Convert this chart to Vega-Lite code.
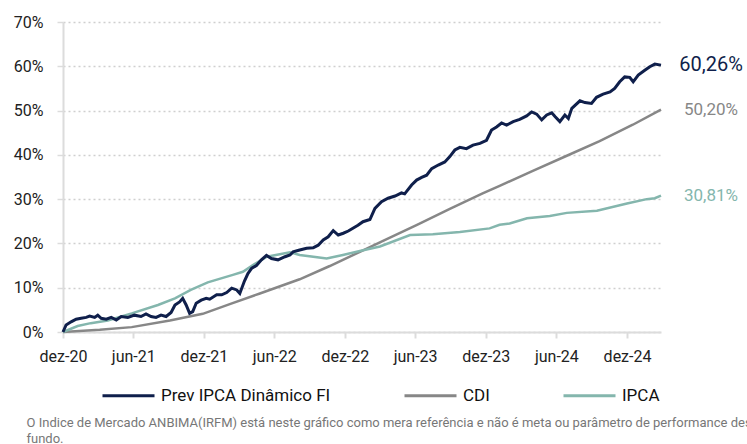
{
  "$schema": "https://vega.github.io/schema/vega-lite/v6.json",
  "width": 598,
  "height": 310,
  "autosize": {"type": "none"},
  "padding": {"left": 63, "top": 22, "right": 86, "bottom": 112},
  "title": {"text": "Rentabilidade acumulada desde o começo", "fontSize": 18, "fontWeight": "bold", "color": "#1b2559", "anchor": "middle", "frame": "group", "baseline": "alphabetic", "offset": 20, "dx": 42, "font": "Roboto"},
  "config": {"view": {"stroke": null}, "font": "Roboto"},
  "datasets": {
    "series": [
      {"serie": "CDI", "date": "2020-12-01", "value": 0},
      {"serie": "CDI", "date": "2021-03-06", "value": 0.5},
      {"serie": "CDI", "date": "2021-05-28", "value": 1.1},
      {"serie": "CDI", "date": "2021-09-04", "value": 2.6},
      {"serie": "CDI", "date": "2021-11-28", "value": 4.1},
      {"serie": "CDI", "date": "2022-02-06", "value": 6.3},
      {"serie": "CDI", "date": "2022-04-25", "value": 8.7},
      {"serie": "CDI", "date": "2022-08-06", "value": 11.9},
      {"serie": "CDI", "date": "2022-10-23", "value": 14.9},
      {"serie": "CDI", "date": "2023-01-09", "value": 18.1},
      {"serie": "CDI", "date": "2023-03-10", "value": 20.6},
      {"serie": "CDI", "date": "2023-06-06", "value": 24.2},
      {"serie": "CDI", "date": "2023-08-30", "value": 27.8},
      {"serie": "CDI", "date": "2023-11-23", "value": 31.3},
      {"serie": "CDI", "date": "2024-01-06", "value": 33.0},
      {"serie": "CDI", "date": "2024-04-01", "value": 36.4},
      {"serie": "CDI", "date": "2024-06-28", "value": 39.8},
      {"serie": "CDI", "date": "2024-09-21", "value": 43.1},
      {"serie": "CDI", "date": "2024-12-16", "value": 46.8},
      {"serie": "CDI", "date": "2025-02-27", "value": 50.2},
      {"serie": "IPCA", "date": "2020-12-01", "value": 0},
      {"serie": "IPCA", "date": "2021-01-08", "value": 1.35},
      {"serie": "IPCA", "date": "2021-02-11", "value": 2.0},
      {"serie": "IPCA", "date": "2021-03-27", "value": 2.6},
      {"serie": "IPCA", "date": "2021-05-28", "value": 4.2},
      {"serie": "IPCA", "date": "2021-08-04", "value": 6.1},
      {"serie": "IPCA", "date": "2021-09-17", "value": 7.6},
      {"serie": "IPCA", "date": "2021-10-28", "value": 9.5},
      {"serie": "IPCA", "date": "2021-12-11", "value": 11.2},
      {"serie": "IPCA", "date": "2022-02-14", "value": 12.9},
      {"serie": "IPCA", "date": "2022-03-12", "value": 13.6},
      {"serie": "IPCA", "date": "2022-04-07", "value": 15.1},
      {"serie": "IPCA", "date": "2022-05-13", "value": 17.0},
      {"serie": "IPCA", "date": "2022-07-12", "value": 18.0},
      {"serie": "IPCA", "date": "2022-08-06", "value": 17.4},
      {"serie": "IPCA", "date": "2022-10-15", "value": 16.6},
      {"serie": "IPCA", "date": "2022-11-26", "value": 17.4},
      {"serie": "IPCA", "date": "2023-01-09", "value": 18.3},
      {"serie": "IPCA", "date": "2023-03-02", "value": 19.3},
      {"serie": "IPCA", "date": "2023-05-19", "value": 21.9},
      {"serie": "IPCA", "date": "2023-07-17", "value": 22.1},
      {"serie": "IPCA", "date": "2023-09-25", "value": 22.6},
      {"serie": "IPCA", "date": "2023-12-11", "value": 23.4},
      {"serie": "IPCA", "date": "2024-01-06", "value": 24.2},
      {"serie": "IPCA", "date": "2024-02-01", "value": 24.5},
      {"serie": "IPCA", "date": "2024-03-17", "value": 25.7},
      {"serie": "IPCA", "date": "2024-05-15", "value": 26.2},
      {"serie": "IPCA", "date": "2024-06-28", "value": 26.9},
      {"serie": "IPCA", "date": "2024-09-14", "value": 27.4},
      {"serie": "IPCA", "date": "2024-12-01", "value": 29.0},
      {"serie": "IPCA", "date": "2025-01-21", "value": 30.0},
      {"serie": "IPCA", "date": "2025-02-11", "value": 30.2},
      {"serie": "IPCA", "date": "2025-02-27", "value": 30.81},
      {"serie": "Prev IPCA Dinâmico FI", "date": "2020-12-01", "value": 0},
      {"serie": "Prev IPCA Dinâmico FI", "date": "2020-12-09", "value": 1.6},
      {"serie": "Prev IPCA Dinâmico FI", "date": "2020-12-22", "value": 2.3},
      {"serie": "Prev IPCA Dinâmico FI", "date": "2021-01-04", "value": 2.9},
      {"serie": "Prev IPCA Dinâmico FI", "date": "2021-01-17", "value": 3.1},
      {"serie": "Prev IPCA Dinâmico FI", "date": "2021-01-30", "value": 3.3},
      {"serie": "Prev IPCA Dinâmico FI", "date": "2021-02-08", "value": 3.6},
      {"serie": "Prev IPCA Dinâmico FI", "date": "2021-02-21", "value": 3.3},
      {"serie": "Prev IPCA Dinâmico FI", "date": "2021-03-01", "value": 3.8},
      {"serie": "Prev IPCA Dinâmico FI", "date": "2021-03-10", "value": 3.1},
      {"serie": "Prev IPCA Dinâmico FI", "date": "2021-03-23", "value": 2.9},
      {"serie": "Prev IPCA Dinâmico FI", "date": "2021-04-05", "value": 3.3},
      {"serie": "Prev IPCA Dinâmico FI", "date": "2021-04-18", "value": 2.7},
      {"serie": "Prev IPCA Dinâmico FI", "date": "2021-05-01", "value": 3.5},
      {"serie": "Prev IPCA Dinâmico FI", "date": "2021-05-18", "value": 3.3},
      {"serie": "Prev IPCA Dinâmico FI", "date": "2021-06-04", "value": 3.8},
      {"serie": "Prev IPCA Dinâmico FI", "date": "2021-06-21", "value": 3.5},
      {"serie": "Prev IPCA Dinâmico FI", "date": "2021-07-04", "value": 4.1},
      {"serie": "Prev IPCA Dinâmico FI", "date": "2021-07-17", "value": 3.5},
      {"serie": "Prev IPCA Dinâmico FI", "date": "2021-07-30", "value": 3.3},
      {"serie": "Prev IPCA Dinâmico FI", "date": "2021-08-12", "value": 3.8},
      {"serie": "Prev IPCA Dinâmico FI", "date": "2021-08-25", "value": 3.5},
      {"serie": "Prev IPCA Dinâmico FI", "date": "2021-09-07", "value": 4.4},
      {"serie": "Prev IPCA Dinâmico FI", "date": "2021-09-17", "value": 6.1},
      {"serie": "Prev IPCA Dinâmico FI", "date": "2021-09-29", "value": 6.8},
      {"serie": "Prev IPCA Dinâmico FI", "date": "2021-10-07", "value": 7.6},
      {"serie": "Prev IPCA Dinâmico FI", "date": "2021-10-16", "value": 6.1},
      {"serie": "Prev IPCA Dinâmico FI", "date": "2021-10-25", "value": 4.2},
      {"serie": "Prev IPCA Dinâmico FI", "date": "2021-11-02", "value": 4.6},
      {"serie": "Prev IPCA Dinâmico FI", "date": "2021-11-11", "value": 6.5},
      {"serie": "Prev IPCA Dinâmico FI", "date": "2021-11-24", "value": 7.2},
      {"serie": "Prev IPCA Dinâmico FI", "date": "2021-12-07", "value": 7.6},
      {"serie": "Prev IPCA Dinâmico FI", "date": "2021-12-16", "value": 7.4},
      {"serie": "Prev IPCA Dinâmico FI", "date": "2022-01-03", "value": 8.4},
      {"serie": "Prev IPCA Dinâmico FI", "date": "2022-01-16", "value": 8.4},
      {"serie": "Prev IPCA Dinâmico FI", "date": "2022-01-29", "value": 8.9},
      {"serie": "Prev IPCA Dinâmico FI", "date": "2022-02-11", "value": 9.9},
      {"serie": "Prev IPCA Dinâmico FI", "date": "2022-02-24", "value": 9.5},
      {"serie": "Prev IPCA Dinâmico FI", "date": "2022-03-04", "value": 8.7},
      {"serie": "Prev IPCA Dinâmico FI", "date": "2022-03-16", "value": 11.5},
      {"serie": "Prev IPCA Dinâmico FI", "date": "2022-03-25", "value": 13.2},
      {"serie": "Prev IPCA Dinâmico FI", "date": "2022-04-04", "value": 14.4},
      {"serie": "Prev IPCA Dinâmico FI", "date": "2022-04-16", "value": 15.0},
      {"serie": "Prev IPCA Dinâmico FI", "date": "2022-04-29", "value": 16.3},
      {"serie": "Prev IPCA Dinâmico FI", "date": "2022-05-12", "value": 17.3},
      {"serie": "Prev IPCA Dinâmico FI", "date": "2022-05-25", "value": 16.6},
      {"serie": "Prev IPCA Dinâmico FI", "date": "2022-06-11", "value": 16.3},
      {"serie": "Prev IPCA Dinâmico FI", "date": "2022-06-29", "value": 17.0},
      {"serie": "Prev IPCA Dinâmico FI", "date": "2022-07-12", "value": 17.4},
      {"serie": "Prev IPCA Dinâmico FI", "date": "2022-07-20", "value": 18.1},
      {"serie": "Prev IPCA Dinâmico FI", "date": "2022-08-06", "value": 18.5},
      {"serie": "Prev IPCA Dinâmico FI", "date": "2022-08-24", "value": 18.9},
      {"serie": "Prev IPCA Dinâmico FI", "date": "2022-09-10", "value": 19.0},
      {"serie": "Prev IPCA Dinâmico FI", "date": "2022-09-23", "value": 19.6},
      {"serie": "Prev IPCA Dinâmico FI", "date": "2022-10-06", "value": 20.8},
      {"serie": "Prev IPCA Dinâmico FI", "date": "2022-10-19", "value": 21.5},
      {"serie": "Prev IPCA Dinâmico FI", "date": "2022-11-01", "value": 22.9},
      {"serie": "Prev IPCA Dinâmico FI", "date": "2022-11-14", "value": 21.9},
      {"serie": "Prev IPCA Dinâmico FI", "date": "2022-11-27", "value": 22.3},
      {"serie": "Prev IPCA Dinâmico FI", "date": "2022-12-10", "value": 22.8},
      {"serie": "Prev IPCA Dinâmico FI", "date": "2022-12-23", "value": 23.5},
      {"serie": "Prev IPCA Dinâmico FI", "date": "2023-01-04", "value": 24.1},
      {"serie": "Prev IPCA Dinâmico FI", "date": "2023-01-17", "value": 24.9},
      {"serie": "Prev IPCA Dinâmico FI", "date": "2023-02-04", "value": 25.4},
      {"serie": "Prev IPCA Dinâmico FI", "date": "2023-02-17", "value": 27.9},
      {"serie": "Prev IPCA Dinâmico FI", "date": "2023-03-06", "value": 29.4},
      {"serie": "Prev IPCA Dinâmico FI", "date": "2023-03-23", "value": 30.2},
      {"serie": "Prev IPCA Dinâmico FI", "date": "2023-04-10", "value": 30.7},
      {"serie": "Prev IPCA Dinâmico FI", "date": "2023-04-27", "value": 31.4},
      {"serie": "Prev IPCA Dinâmico FI", "date": "2023-05-05", "value": 31.2},
      {"serie": "Prev IPCA Dinâmico FI", "date": "2023-05-23", "value": 33.2},
      {"serie": "Prev IPCA Dinâmico FI", "date": "2023-06-05", "value": 34.3},
      {"serie": "Prev IPCA Dinâmico FI", "date": "2023-06-18", "value": 34.9},
      {"serie": "Prev IPCA Dinâmico FI", "date": "2023-07-01", "value": 35.4},
      {"serie": "Prev IPCA Dinâmico FI", "date": "2023-07-14", "value": 36.9},
      {"serie": "Prev IPCA Dinâmico FI", "date": "2023-07-31", "value": 37.7},
      {"serie": "Prev IPCA Dinâmico FI", "date": "2023-08-17", "value": 38.4},
      {"serie": "Prev IPCA Dinâmico FI", "date": "2023-08-30", "value": 39.6},
      {"serie": "Prev IPCA Dinâmico FI", "date": "2023-09-12", "value": 41.1},
      {"serie": "Prev IPCA Dinâmico FI", "date": "2023-09-25", "value": 41.7},
      {"serie": "Prev IPCA Dinâmico FI", "date": "2023-10-12", "value": 41.4},
      {"serie": "Prev IPCA Dinâmico FI", "date": "2023-10-29", "value": 42.2},
      {"serie": "Prev IPCA Dinâmico FI", "date": "2023-11-16", "value": 42.6},
      {"serie": "Prev IPCA Dinâmico FI", "date": "2023-12-03", "value": 43.3},
      {"serie": "Prev IPCA Dinâmico FI", "date": "2023-12-16", "value": 45.6},
      {"serie": "Prev IPCA Dinâmico FI", "date": "2023-12-29", "value": 46.3},
      {"serie": "Prev IPCA Dinâmico FI", "date": "2024-01-11", "value": 47.2},
      {"serie": "Prev IPCA Dinâmico FI", "date": "2024-01-24", "value": 46.7},
      {"serie": "Prev IPCA Dinâmico FI", "date": "2024-02-10", "value": 47.5},
      {"serie": "Prev IPCA Dinâmico FI", "date": "2024-02-27", "value": 48.0},
      {"serie": "Prev IPCA Dinâmico FI", "date": "2024-03-16", "value": 48.8},
      {"serie": "Prev IPCA Dinâmico FI", "date": "2024-03-29", "value": 49.7},
      {"serie": "Prev IPCA Dinâmico FI", "date": "2024-04-11", "value": 49.2},
      {"serie": "Prev IPCA Dinâmico FI", "date": "2024-04-24", "value": 47.9},
      {"serie": "Prev IPCA Dinâmico FI", "date": "2024-05-07", "value": 49.0},
      {"serie": "Prev IPCA Dinâmico FI", "date": "2024-05-20", "value": 49.5},
      {"serie": "Prev IPCA Dinâmico FI", "date": "2024-05-29", "value": 48.6},
      {"serie": "Prev IPCA Dinâmico FI", "date": "2024-06-10", "value": 47.5},
      {"serie": "Prev IPCA Dinâmico FI", "date": "2024-06-23", "value": 49.0},
      {"serie": "Prev IPCA Dinâmico FI", "date": "2024-07-02", "value": 48.2},
      {"serie": "Prev IPCA Dinâmico FI", "date": "2024-07-11", "value": 50.5},
      {"serie": "Prev IPCA Dinâmico FI", "date": "2024-08-01", "value": 52.2},
      {"serie": "Prev IPCA Dinâmico FI", "date": "2024-08-14", "value": 51.8},
      {"serie": "Prev IPCA Dinâmico FI", "date": "2024-08-31", "value": 51.6},
      {"serie": "Prev IPCA Dinâmico FI", "date": "2024-09-13", "value": 53.0},
      {"serie": "Prev IPCA Dinâmico FI", "date": "2024-09-30", "value": 53.7},
      {"serie": "Prev IPCA Dinâmico FI", "date": "2024-10-18", "value": 54.2},
      {"serie": "Prev IPCA Dinâmico FI", "date": "2024-10-30", "value": 55.0},
      {"serie": "Prev IPCA Dinâmico FI", "date": "2024-11-12", "value": 56.5},
      {"serie": "Prev IPCA Dinâmico FI", "date": "2024-11-25", "value": 57.6},
      {"serie": "Prev IPCA Dinâmico FI", "date": "2024-12-08", "value": 57.5},
      {"serie": "Prev IPCA Dinâmico FI", "date": "2024-12-17", "value": 56.5},
      {"serie": "Prev IPCA Dinâmico FI", "date": "2024-12-30", "value": 58.0},
      {"serie": "Prev IPCA Dinâmico FI", "date": "2025-01-16", "value": 59.1},
      {"serie": "Prev IPCA Dinâmico FI", "date": "2025-01-29", "value": 59.9},
      {"serie": "Prev IPCA Dinâmico FI", "date": "2025-02-11", "value": 60.5},
      {"serie": "Prev IPCA Dinâmico FI", "date": "2025-02-27", "value": 60.26}
    ],
    "labels": [
      {"serie": "Prev IPCA Dinâmico FI", "date": "2025-02-27", "value": 60.26, "label": "60,26%"},
      {"serie": "CDI", "date": "2025-02-27", "value": 50.2, "label": "50,20%"},
      {"serie": "IPCA", "date": "2025-02-27", "value": 30.81, "label": "30,81%"}
    ]
  },
  "encoding": {
    "x": {
      "field": "date", "type": "temporal",
      "scale": {"type": "utc", "domain": [{"year": 2020, "month": 12, "date": 1, "utc": true}, {"year": 2025, "month": 2, "date": 27, "utc": true}]},
      "axis": {
        "values": [
          {"year": 2020, "month": 12, "date": 1, "utc": true},
          {"year": 2021, "month": 6, "date": 1, "utc": true},
          {"year": 2021, "month": 12, "date": 1, "utc": true},
          {"year": 2022, "month": 6, "date": 1, "utc": true},
          {"year": 2022, "month": 12, "date": 1, "utc": true},
          {"year": 2023, "month": 6, "date": 1, "utc": true},
          {"year": 2023, "month": 12, "date": 1, "utc": true},
          {"year": 2024, "month": 6, "date": 1, "utc": true},
          {"year": 2024, "month": 12, "date": 1, "utc": true}
        ],
        "labelExpr": "(utcFormat(datum.value, '%m') == '12' ? 'dez' : 'jun') + '-' + utcFormat(datum.value, '%y')",
        "labelFlush": false, "labelOverlap": false,
        "grid": false,
        "domainColor": "#dcdcdc", "domainWidth": 2,
        "tickColor": "#dcdcdc", "tickSize": 6, "tickWidth": 2,
        "labelFontSize": 16, "labelColor": "#222222", "labelPadding": 10, "labelFont": "Roboto",
        "title": ["O Indice de Mercado ANBIMA(IRFM) está neste gráfico como mera referência e não é meta ou parâmetro de performance deste", "fundo."],
        "titleX": -37, "titleY": 84, "titleAlign": "left", "titleBaseline": "top",
        "titleFontSize": 13, "titleFontWeight": "normal", "titleColor": "#777777", "titleLineHeight": 16, "titleFont": "Roboto"
      }
    },
    "y": {
      "field": "value", "type": "quantitative",
      "scale": {"domain": [0, 70], "nice": false},
      "axis": {
        "values": [0, 10, 20, 30, 40, 50, 60, 70],
        "labelExpr": "datum.value + '%'",
        "grid": true, "gridDash": [2, 3], "gridColor": "#cfcfcf", "gridWidth": 1.5,
        "domainColor": "#dcdcdc", "domainWidth": 2,
        "tickColor": "#dcdcdc", "tickSize": 6, "tickWidth": 1.5,
        "labelFontSize": 16, "labelColor": "#222222", "labelPadding": 14, "labelFont": "Roboto",
        "title": null
      }
    },
    "color": {
      "field": "serie", "type": "nominal",
      "scale": {"domain": ["Prev IPCA Dinâmico FI", "CDI", "IPCA"], "range": ["#0f1f4b", "#878787", "#84b6ad"]},
      "legend": {
        "orient": "none", "legendX": 38, "legendY": 346, "direction": "horizontal", "title": null,
        "symbolType": "stroke", "symbolSize": 2704, "symbolStrokeWidth": 3,
        "labelFontSize": 17, "labelFont": "Roboto", "labelColor": "#111111", "labelOffset": 5, "labelLimit": 400, "columnPadding": 67
      }
    }
  },
  "layer": [
    {"data": {"name": "series"}, "transform": [{"filter": "datum.serie == 'CDI'"}], "mark": {"type": "line", "strokeWidth": 2.5}},
    {"data": {"name": "series"}, "transform": [{"filter": "datum.serie == 'IPCA'"}], "mark": {"type": "line", "strokeWidth": 2.5}},
    {"data": {"name": "series"}, "transform": [{"filter": "datum.serie == 'Prev IPCA Dinâmico FI'"}], "mark": {"type": "line", "strokeWidth": 3}},
    {
      "data": {"name": "labels"},
      "transform": [{"filter": "datum.serie == 'Prev IPCA Dinâmico FI'"}],
      "mark": {"type": "text", "dx": 50, "align": "center", "baseline": "middle", "font": "Roboto", "fontSize": 20},
      "encoding": {"text": {"field": "label"}}
    },
    {
      "data": {"name": "labels"},
      "transform": [{"filter": "datum.serie != 'Prev IPCA Dinâmico FI'"}],
      "mark": {"type": "text", "dx": 50, "align": "center", "baseline": "middle", "font": "Roboto", "fontSize": 17},
      "encoding": {"text": {"field": "label"}}
    }
  ]
}
